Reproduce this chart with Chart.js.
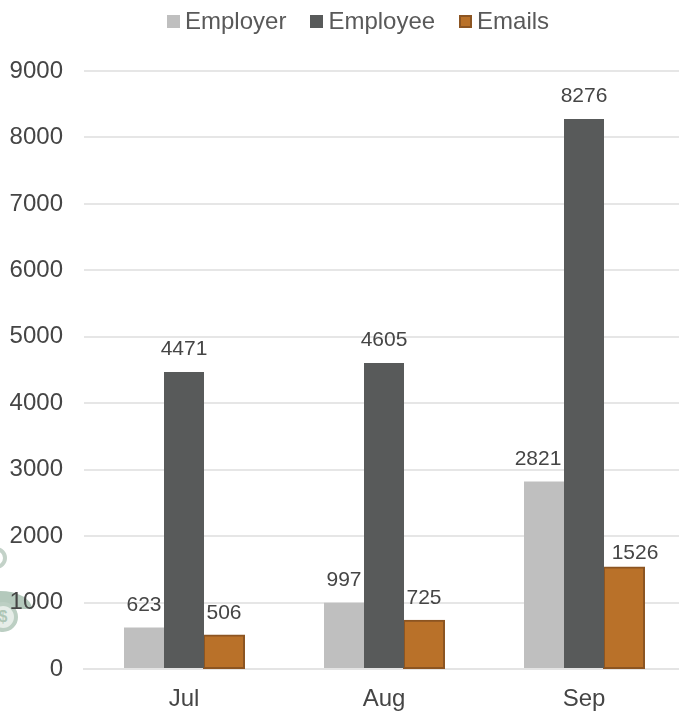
<!DOCTYPE html>
<html>
<head>
<meta charset="utf-8">
<style>
  html, body { margin: 0; padding: 0; background: #fff; overflow: hidden; width: 679px; height: 711px; }
  #wrap { position: relative; width: 679px; height: 711px; overflow: hidden; }
  canvas { position: absolute; left: 0; top: 0; }
  #legend { position: absolute; top: 6px; left: 167px; height: 30px; display: flex; align-items: center;
    font: 24px "Liberation Sans", Arial, sans-serif; color: #595959; white-space: nowrap; }
  #legend .item { display: flex; align-items: center; margin-right: 24px; }
  #legend i { display: block; width: 13px; height: 13px; margin-right: 5px; box-sizing: border-box; }
  /* faded logo bleeding in at the left edge of the screenshot */
  .logo { position: absolute; box-sizing: border-box; }
  #ring { left: -15px; top: 547px; width: 22px; height: 22px; border: 4px solid #c3d2c8; border-radius: 50%; }
  #leaf { left: 0; top: 591px; width: 32px; height: 18px; background: #b4c9bc; border-radius: 0 100% 0 0; }
  #coin { left: -12px; top: 602px; width: 30px; height: 30px; border: 4px solid #bccfc3; border-radius: 50%;
    background: #e6ede8; color: #aec5b5; font: bold 16px/22px "Liberation Sans", sans-serif; text-align: center; }
</style>
<script src="https://cdn.jsdelivr.net/npm/chart.js@4/dist/chart.umd.js"></script>
</head>
<body>
<div id="wrap">
  <div class="logo" id="ring"></div>
  <div class="logo" id="leaf"></div>
  <div class="logo" id="coin">$</div>
  <canvas id="chart" width="700" height="711"></canvas>
  <div id="legend"></div>
</div>
<script>
const months = ['Jul', 'Aug', 'Sep']
const employer = [623, 997, 2821]
const employee = [4471, 4605, 8276]
const emails = [506, 725, 1526]

const textColor = '#454545'
const font = '"Liberation Sans", Arial, sans-serif'

// value above each bar, two of the labels were dragged clear of the tall bar
const labelNudge = { '0-2': { x: -6 }, '2-2': { x: 11, y: 8 } }

const barLabels = {
  id: 'barLabels',
  afterDatasetsDraw(chart) {
    const ctx = chart.ctx
    ctx.save()
    ctx.font = '21px ' + font
    ctx.fillStyle = textColor
    ctx.textAlign = 'center'
    ctx.textBaseline = 'middle'
    chart.data.datasets.forEach((ds, i) => {
      chart.getDatasetMeta(i).data.forEach((bar, j) => {
        const nudge = labelNudge[i + '-' + j] || {}
        ctx.fillText(ds.data[j], bar.x + (nudge.x || 0), bar.y - 22.5 + (nudge.y || 0))
      })
    })
    ctx.restore()
  }
}

const chart = new Chart(document.getElementById('chart'), {
  type: 'bar',
  data: {
    labels: months,
    datasets: [
      { label: 'Employer', data: employer, backgroundColor: '#bfbfbf' },
      { label: 'Employee', data: employee, backgroundColor: '#585a5a' },
      { label: 'Emails', data: emails, backgroundColor: '#b97129', borderColor: '#8c5522', borderWidth: 2, borderSkipped: false, inflateAmount: 1 }
    ]
  },
  options: {
    responsive: false,
    animation: false,
    barPercentage: 1,
    categoryPercentage: 0.6,
    layout: { padding: { top: 71, right: 16, bottom: 0, left: 0 } },
    plugins: { legend: { display: false }, tooltip: { enabled: false } },
    scales: {
      x: {
        grid: { display: false },
        border: { color: '#e4e4e4', width: 2 },
        ticks: { color: textColor, font: { family: font, size: 24 }, padding: 8 },
        afterFit(s) { s.height = 42 }
      },
      y: {
        min: 0,
        max: 9000,
        grid: { color: '#e6e6e6', lineWidth: 2, drawTicks: false },
        border: { display: false },
        ticks: {
          stepSize: 1000,
          color: textColor,
          font: { family: font, size: 24 },
          padding: 21,
          callback: v => String(v)
        },
        afterFit(s) { s.width = 84 }
      }
    }
  },
  plugins: [barLabels]
})

// legend sits tight against its swatches, so build it from the datasets
document.getElementById('legend').innerHTML = chart.data.datasets.map(ds => {
  const border = ds.borderColor && ds.borderWidth ? `border:2px solid ${ds.borderColor};` : ''
  return `<span class="item"><i style="background:${ds.backgroundColor};${border}"></i>${ds.label}</span>`
}).join('')
</script>
</body>
</html>
